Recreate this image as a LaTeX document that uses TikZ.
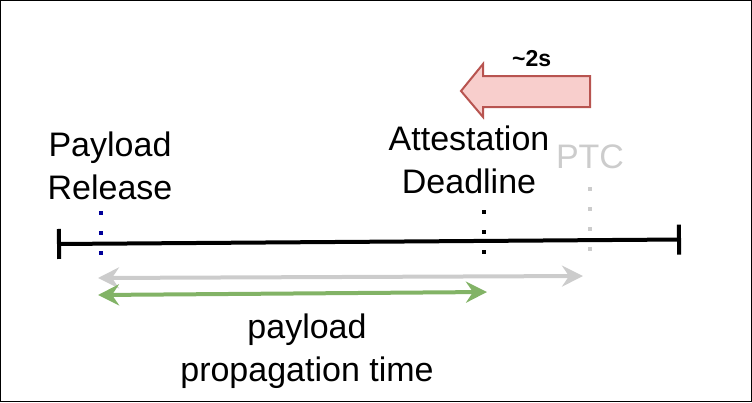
\documentclass[tikz,border=0pt]{standalone}
\usepackage{fontspec}
\setmainfont{Liberation Sans}
\usetikzlibrary{arrows.meta,positioning}
\definecolor{ptcGray}{HTML}{CCCCCC}
\definecolor{relBlue}{HTML}{000099}
\definecolor{propGreen}{HTML}{82B366}
\definecolor{shiftFill}{HTML}{F8CECC}
\definecolor{shiftLine}{HTML}{B85450}

\begin{document}
\begin{tikzpicture}[x=1pt, y=-1pt]

  \tikzset{LabelStyle/.style =
	{font=\fontsize{34}{42.5}\selectfont,
	align=center, anchor=base, inner sep=0pt}}
  \tikzset{MarkStyle/.style =
	{line width=4pt, dash pattern=on 4pt off 16pt}}
  \tikzset{SpanStyle/.style =
	{line width=4pt,
	{Stealth[length=21pt,width=21pt,inset=7pt]}-{Stealth[length=21pt,width=21pt,inset=7pt]}}}

  \useasboundingbox (0,0) rectangle (752,402);
  \draw[line width=1pt] (0.5,0.5) rectangle (751.5,401.5);

  % the time line
  \coordinate (lineL) at (57,244);
  \coordinate (lineR) at (681,239.5);
  \draw[line width=4pt, {Bar[width=30pt]}-{Bar[width=30pt]}] (lineL) -- (lineR);

  % labels (base = last line)
  \node[LabelStyle] (release) at (110,199.3) {Payload\\Release};
  \node[LabelStyle] (deadline) at (469,193.3) {Attestation\\Deadline};
  \node[LabelStyle, text=ptcGray] (ptc) at (590,168) {PTC};
  \node[LabelStyle] (proptime) at (307,381) {payload\\propagation time};

  % markers
  \coordinate (relTop) at (100.7,211);
  \coordinate (relBot) at (100.7,255);
  \coordinate (ddlTop) at (484,210);
  \coordinate (ddlBot) at (484,254);
  \coordinate (ptcTop) at (590,187);
  \coordinate (ptcBot) at (590,251);
  \draw[MarkStyle, relBlue] (relTop) -- (relBot);
  \draw[MarkStyle, black] (ddlTop) -- (ddlBot);
  \draw[MarkStyle, ptcGray] (ptcTop) -- (ptcBot);

  % spans
  \coordinate (slotL) at (98,278);
  \coordinate (slotR) at (583,276);
  \coordinate (propL) at (98,295);
  \coordinate (propR) at (487,292);
  \draw[SpanStyle, ptcGray] (slotL) -- (slotR);
  \draw[SpanStyle, propGreen] (propL) -- (propR);

  % shift of the deadline
  \draw[line width=2pt, shiftLine, fill=shiftFill, line join=miter]
    (590,76) -- (483,76) -- (483,64) -- (461,91) -- (483,117) -- (483,107) -- (590,107) -- cycle;
  \node[font=\fontsize{23}{27}\selectfont\bfseries, anchor=base, inner sep=0pt] (shift) at (531.7,66.7) {\textasciitilde2s};

\end{tikzpicture}
\end{document}
